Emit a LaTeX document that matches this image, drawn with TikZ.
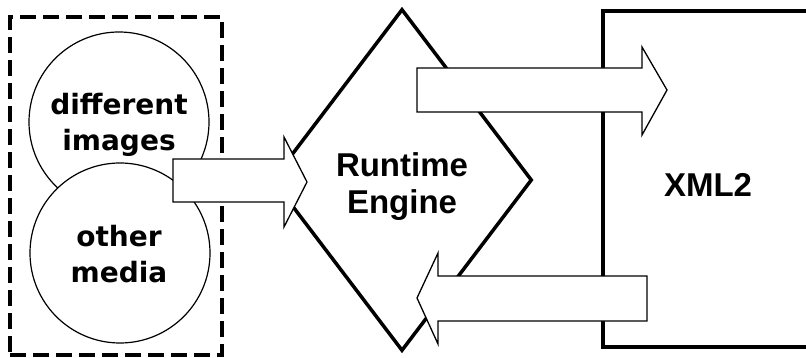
\documentclass[tikz,border=0pt]{standalone}
\usepackage{fontspec}
\setmainfont{Liberation Sans}
\newfontfamily\circfont{DejaVu Sans}
\usetikzlibrary{shapes.geometric}
\tikzset{
  dashedbox/.style={draw, line width=3.5pt, dash pattern=on 16pt off 7pt, rectangle, inner sep=0pt},
  circ/.style={draw, fill=white, circle, line width=1.2pt, minimum size=180pt, inner sep=0pt},
  circtext/.style={align=center, inner sep=0pt, font=\circfont\bfseries\fontsize{28}{36}\selectfont},
  diam/.style={draw, fill=white, diamond, line width=3.5pt, minimum width=260pt, minimum height=342pt, inner sep=0pt},
  xmlbox/.style={draw, fill=white, rectangle, line width=3.5pt, inner sep=0pt},
  bigtext/.style={align=center, inner sep=0pt, font=\bfseries\fontsize{33}{37}\selectfont},
  blockarrow/.style={draw, fill=white, line width=1.3pt, line join=miter}
}
\begin{document}
\begin{tikzpicture}[x=1pt, y=-1pt]
\useasboundingbox[fill=white] (0,0) rectangle (806,358);
\clip (0,0) rectangle (806,358);
% source group
\node[dashedbox, minimum width=212pt, minimum height=338pt] (src) at (116,186) {};
\node[circ] (img) at (119,122) {};
\node[circtext] (imgtxt) at (119,125) {different\\images};
\node[circ] (med) at (120,253) {};
\node[circtext] (medtxt) at (119,254) {other\\media};
% engine
\node[diam] (eng) at (402,180) {};
\node[bigtext] (engtxt) at (402,187) {Runtime\\Engine};
% XML2
\node[xmlbox, minimum width=230pt, minimum height=336pt] (xml) at (718,179) {};
\node[bigtext] (xmltxt) at (708,185) {XML2};
% block arrows
\coordinate (a1) at (173,159);
\draw[blockarrow] (a1) -- (284,159) -- (284,137) -- (307,182) -- (284,227) -- (284,202) -- (173,202) -- cycle;
\coordinate (a2) at (417,68);
\draw[blockarrow] (a2) -- (642,68) -- (642,47) -- (667,90) -- (642,135) -- (642,112) -- (417,112) -- cycle;
\coordinate (a3) at (647,276);
\draw[blockarrow] (a3) -- (438,276) -- (438,253) -- (417,298) -- (438,344) -- (438,321) -- (647,321) -- cycle;
\end{tikzpicture}
\end{document}
